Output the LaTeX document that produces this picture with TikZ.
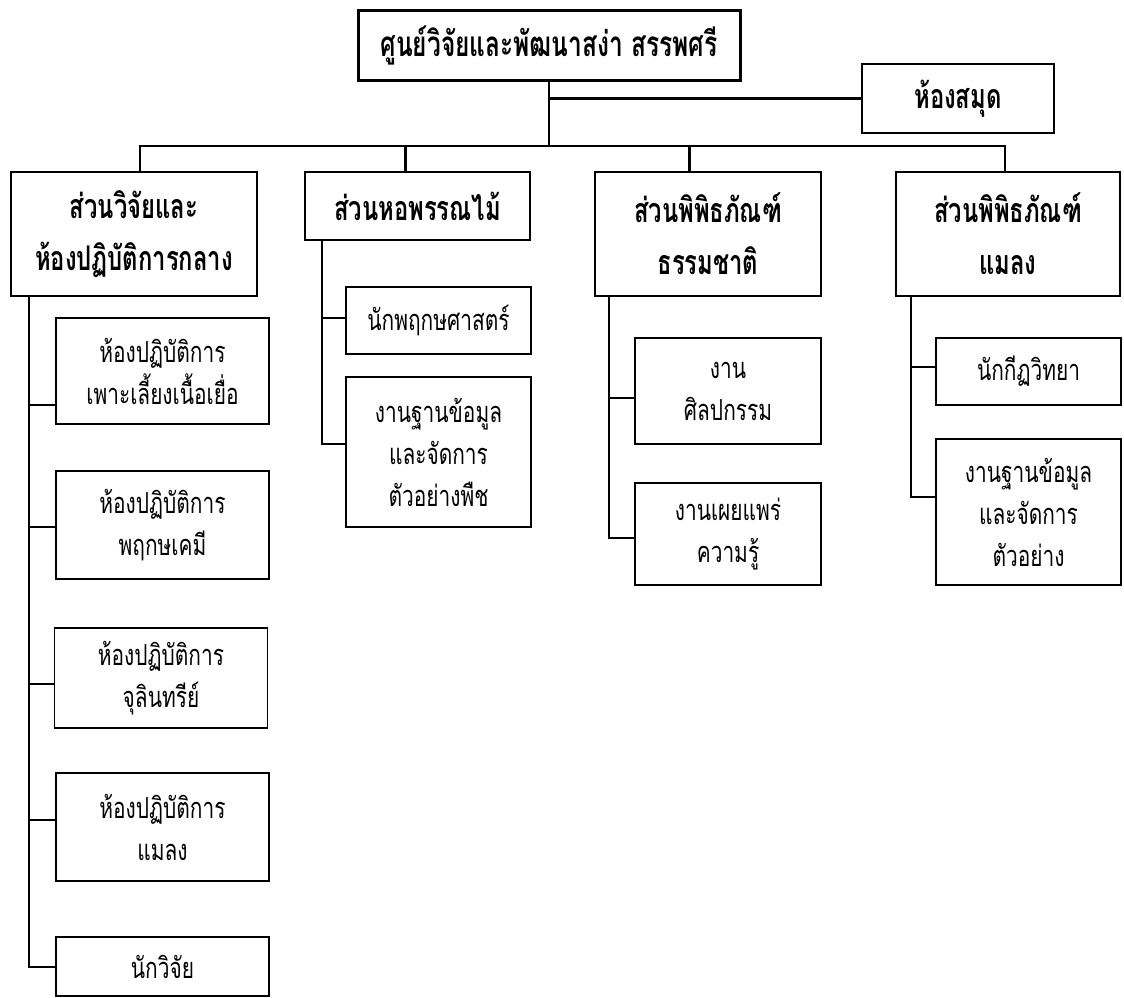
\documentclass[tikz,border=0pt]{standalone}
\usepackage{fontspec}
\newfontfamily\thaih[Script=Thai,FakeStretch=0.70]{Loma}
\newfontfamily\thair[Script=Thai,FakeStretch=0.72]{Loma}
\tikzset{
  boxbase/.style={draw, rectangle, inner sep=0pt, outer sep=0pt, align=center, text=black},
  topbox/.style={boxbase, line width=3pt, font={\thaih\bfseries\fontsize{35}{40}\selectfont}},
  headbox/.style={boxbase, line width=2.4pt, font={\thaih\bfseries\fontsize{34}{52}\selectfont}},
  childbox/.style={boxbase, line width=1.8pt, font={\thair\fontsize{29}{42}\selectfont}},
  mainline/.style={line width=2.2pt},
  subline/.style={line width=2pt},
}
\begin{document}
\begin{tikzpicture}[x=1pt,y=-1pt]
\useasboundingbox (0,0) rectangle (1124,997);
% top level
\node[topbox, minimum width=382, minimum height=70] (top) at (549,45) {ศูนย์วิจัยและพัฒนาสง่า สรรพศรี};
\node[headbox, minimum width=192, minimum height=69] (lib) at (958,98.5) {ห้องสมุด};
% divisions
\node[headbox, minimum width=246, minimum height=124] (b1) at (134,234) {ส่วนวิจัยและ\\ห้องปฏิบัติการกลาง};
\node[headbox, minimum width=225, minimum height=68] (b2) at (417.5,206) {ส่วนหอพรรณไม้};
\node[headbox, minimum width=226, minimum height=124] (b3) at (708,234) {ส่วนพิพิธภัณฑ์\\ธรรมชาติ};
\node[headbox, minimum width=224, minimum height=124] (b4) at (1008,234) {ส่วนพิพิธภัณฑ์\\แมลง};
% children of b1
\node[childbox, minimum width=213, minimum height=106] (c11) at (162.5,371) {ห้องปฏิบัติการ\\เพาะเลี้ยงเนื้อเยื่อ};
\node[childbox, minimum width=213, minimum height=108] (c12) at (162.5,525) {ห้องปฏิบัติการ\\พฤกษเคมี};
\node[childbox, minimum width=213, minimum height=100] (c13) at (161,678) {ห้องปฏิบัติการ\\จุลินทรีย์};
\node[childbox, minimum width=213, minimum height=108] (c14) at (162.5,827) {ห้องปฏิบัติการ\\แมลง};
\node[childbox, minimum width=213, minimum height=59] (c15) at (162.5,966.5) {นักวิจัย};
% children of b2
\node[childbox, minimum width=185, minimum height=67] (c21) at (438.5,320.5) {นักพฤกษศาสตร์};
\node[childbox, minimum width=185, minimum height=150] (c22) at (438.5,452) {งานฐานข้อมูล\\และจัดการ\\ตัวอย่างพืช};
% children of b3
\node[childbox, minimum width=186, minimum height=106] (c31) at (728,391) {งาน\\ศิลปกรรม};
\node[childbox, minimum width=186, minimum height=102] (c32) at (728,534) {งานเผยแพร่\\ความรู้};
% children of b4
\node[childbox, minimum width=185, minimum height=67] (c41) at (1028.5,371.5) {นักกีฏวิทยา};
\node[childbox, minimum width=185, minimum height=146] (c42) at (1028.5,512) {งานฐานข้อมูล\\และจัดการ\\ตัวอย่าง};
% main connectors
\coordinate (bus) at (top.south |- 0,146);
\draw[mainline] (top.south) -- (bus);
\draw[mainline] (top.south |- lib.west) -- (lib.west);
\draw[mainline] (b1.north -| 140,0) -- (bus -| 140,0) -- (bus -| 1005,0) -- (b4.north -| 1005,0);
\draw[mainline] (bus -| 405.5,0) -- (b2.north -| 405.5,0);
\draw[mainline] (bus -| 689.5,0) -- (b3.north -| 689.5,0);
% sub connectors
\coordinate (v1) at (b1.south -| 29,0);
\coordinate (v2) at (b2.south -| 322,0);
\coordinate (v3) at (b3.south -| 609,0);
\coordinate (v4) at (b4.south -| 911,0);
\draw[subline] (v1) |- (c15.west |- 0,967);
\draw[subline] (v1 |- 0,405) -- (c11.west |- 0,405);
\draw[subline] (v1 |- 0,527) -- (c12.west |- 0,527);
\draw[subline] (v1 |- 0,684) -- (c13.west |- 0,684);
\draw[subline] (v1 |- 0,820) -- (c14.west |- 0,820);
\draw[subline] (v2) |- (c22.west |- 0,444);
\draw[subline] (v2 |- 0,318) -- (c21.west |- 0,318);
\draw[subline] (v3) |- (c32.west |- 0,538);
\draw[subline] (v3 |- 0,398) -- (c31.west |- 0,398);
\draw[subline] (v4) |- (c42.west |- 0,497);
\draw[subline] (v4 |- 0,367) -- (c41.west |- 0,367);
\end{tikzpicture}
\end{document}
